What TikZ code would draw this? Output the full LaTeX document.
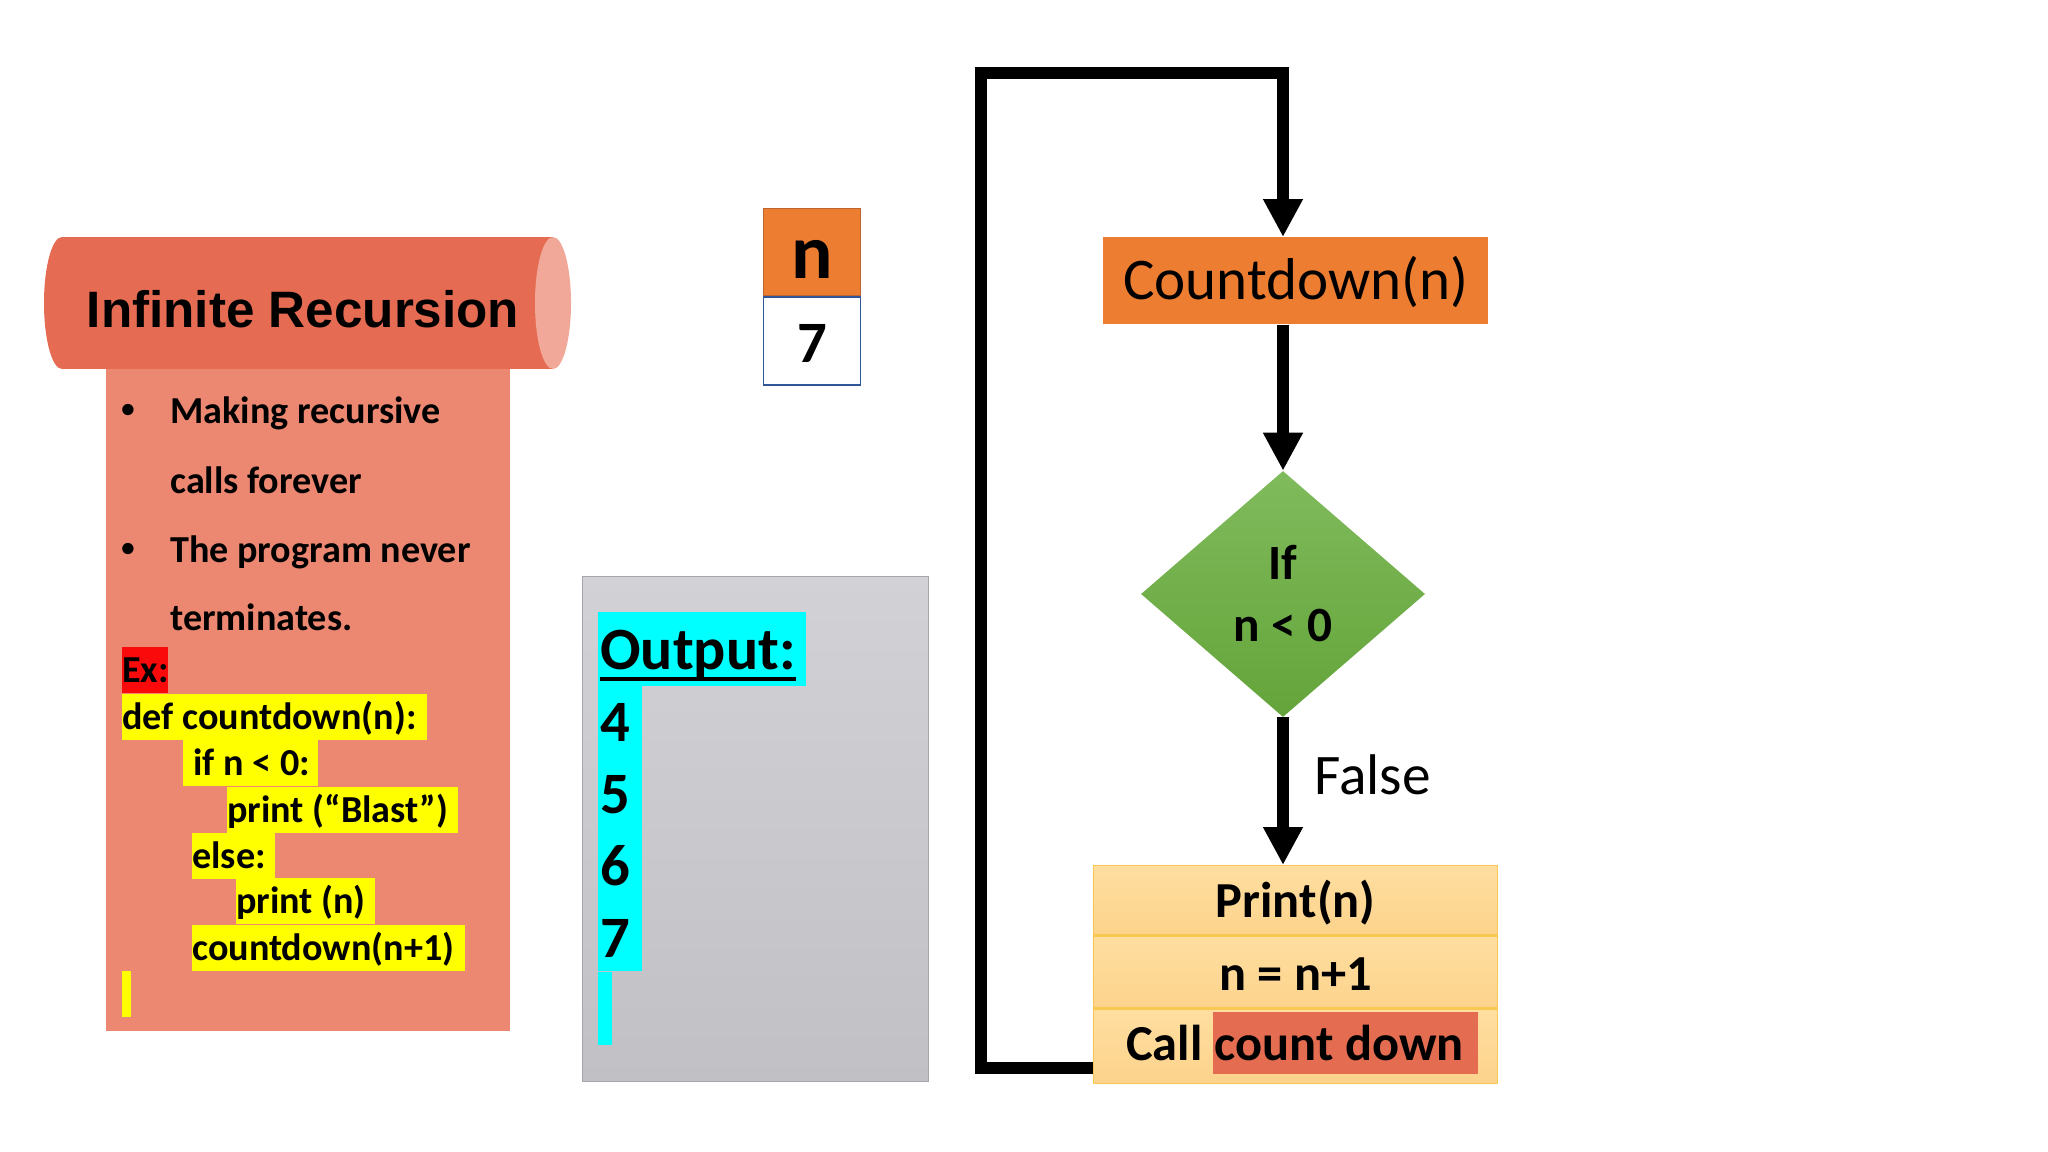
\documentclass[tikz,border=0pt]{standalone}
\usepackage{fontspec}
\setmainfont{Carlito}
\newfontfamily\arialfont{Liberation Sans}
\usetikzlibrary{arrows.meta,shapes.geometric,calc}

\definecolor{scrollred}{RGB}{229,108,82}
\definecolor{scrollend}{RGB}{241,168,152}
\definecolor{panelsalmon}{RGB}{236,135,113}
\definecolor{hlyellow}{RGB}{255,255,0}
\definecolor{exred}{RGB}{250,10,10}
\definecolor{nfill}{RGB}{237,125,49}
\definecolor{ndraw}{RGB}{190,100,45}
\definecolor{celldraw}{RGB}{47,85,151}
\definecolor{hlcyan}{RGB}{0,255,255}
\definecolor{graytop}{RGB}{210,209,213}
\definecolor{graybot}{RGB}{193,192,196}
\definecolor{grayline}{RGB}{165,165,170}
\definecolor{greentop}{RGB}{128,187,92}
\definecolor{greenbot}{RGB}{100,164,58}
\definecolor{steptop}{RGB}{255,222,160}
\definecolor{stepbot}{RGB}{252,211,140}
\definecolor{stepline}{RGB}{248,200,80}
\definecolor{callred}{RGB}{228,108,80}

\newcommand{\panelfont}{\fontsize{28.6}{34}\selectfont\bfseries}
\newcommand{\outfont}{\fontsize{44}{50}\selectfont\bfseries}
\newcommand{\stepfont}{\fontsize{37.8}{42}\selectfont\bfseries}
\newcommand{\thickul}[1]{\setbox0\hbox{#1}\rlap{\rule[-8.6pt]{\wd0}{3pt}}\box0}

\tikzset{
	txt/.style={inner sep=0pt, anchor=base west},
	bulletdot/.style={inner sep=0pt, anchor=center, font=\fontsize{20}{24}\selectfont\bfseries},
	codehl/.style={fill=hlyellow, inner sep=0pt, anchor=base west,
		text height=26.5pt, text depth=8pt, font=\panelfont},
	varcell/.style={anchor=north west, inner sep=0pt, minimum width=72.75pt,
		line width=1.1pt, font=\bfseries},
	outcol/.style={anchor=north west, fill=hlcyan, inner sep=0pt},
	cdbox/.style={anchor=north west, fill=nfill, inner sep=0pt, minimum width=288.75pt,
		text height=46.5pt, text depth=18.75pt, font=\fontsize{44.3}{50}\selectfont},
	decision/.style={shape=diamond, inner sep=0pt, minimum width=213pt, minimum height=184.5pt,
		top color=greentop, bottom color=greenbot, align=center,
		font=\fontsize{37}{46.5}\selectfont\bfseries},
	stepbox/.style={anchor=north west, inner sep=0pt, minimum width=303pt,
		top color=steptop, bottom color=stepbot, draw=stepline, line width=1pt,
		font=\stepfont},
	flowarrow/.style={line width=9pt, -{Triangle[length=28.5pt,width=28pt]}},
}

\begin{document}
\begin{tikzpicture}[x=0.75pt,y=0.75pt,yscale=-1,xscale=1]
\path[use as bounding box, fill=white] (0,0) rectangle (2048,1152);

% scroll with the definition
\fill[panelsalmon] (106,369) rectangle (510,1031);
\fill[scrollred] (62,237) rectangle (553,369);
\fill[scrollred] (62,303) ellipse [x radius=18, y radius=66];
\fill[scrollend] (553,303) ellipse [x radius=18, y radius=66];
\node[txt, anchor=base, font=\arialfont\bfseries\fontsize{38.4}{44}\selectfont] (title) at (303,327) {Infinite Recursion};

\node[bulletdot] (bul1) at (128,411) {•};
\node[txt, font=\panelfont] (line1) at (170,423) {Making recursive};
\node[txt, font=\panelfont] (line2) at (170,493) {calls forever};
\node[bulletdot] (bul2) at (128,550) {•};
\node[txt, font=\panelfont] (line3) at (170,562) {The program never};
\node[txt, font=\panelfont] (line4) at (170,630) {terminates.};

% example code
\node[codehl, fill=exred] (ex) at (122,682) {\makebox[34.5pt][l]{Ex:}};
\node[codehl] (def) at (122,729) {\makebox[228.75pt][l]{def countdown(n):}};
\node[codehl] (ifline) at (183,775) {\makebox[101.25pt][l]{\hspace{7.5pt}if n < 0:}};
\node[codehl] (blast) at (227,822) {\makebox[173.25pt][l]{print (“Blast”)}};
\node[codehl] (elseline) at (192,868) {\makebox[62.25pt][l]{else:}};
\node[codehl] (printn) at (236,913) {\makebox[104.25pt][l]{print (n)}};
\node[codehl] (recur) at (192,960) {\makebox[204.75pt][l]{countdown(n+1)}};
\node[codehl] (cursor) at (122,1006) {\makebox[6.75pt]{}};

% variable n
\node[varcell, fill=nfill, draw=ndraw, text height=52.5pt, text depth=12.75pt,
	font=\fontsize{58}{60}\selectfont\bfseries] (nhead) at (763,208) {n};
\node[varcell, fill=white, draw=celldraw, text height=48.75pt, text depth=17.25pt,
	font=\fontsize{44}{50}\selectfont\bfseries] (nval) at (nhead.south west) {7};

% output window
\node[anchor=north west, inner sep=0pt, minimum width=259.5pt, minimum height=378.75pt,
	top color=graytop, bottom color=graybot, draw=grayline, line width=0.8pt] (outbox) at (582,576) {};
\node[txt, fill=hlcyan, text height=43.1pt, text depth=12.4pt, font=\fontsize{45}{50}\selectfont\bfseries]
	(outlabel) at (598,669.5) {\makebox[156pt][l]{\hspace{1.5pt}\thickul{Output:}}};
\node[outcol, minimum width=33pt, minimum height=213.75pt] (digits) at (598,686) {};
\node[outcol, minimum width=10.5pt, minimum height=54.75pt] (outcursor) at (digits.south west) {};
\foreach \d [count=\i] in {4,...,7}
	\node[txt, font=\outfont] (out\d) at (600,669+72*\i) {\d};

% flowchart
\node[cdbox] (countdown) at (1103,237) {Countdown(n)};
\node[decision] (ifnode) at (1283,594) {If\\n < 0};
\node[stepbox, text height=39pt, text depth=12.75pt] (prow) at (1093,865) {Print(n)};
\node[stepbox, text height=40.5pt, text depth=13.5pt] (incrow) at (prow.south west) {n = n+1};
\node[stepbox, text height=40.5pt, text depth=15pt] (callrow) at (incrow.south west) {};
\node[txt, font=\stepfont] (callword) at (1126,1060) {Call};
\node[txt, fill=callred, text height=36pt, text depth=10.5pt, font=\stepfont]
	(callname) at (1213,1060) {\makebox[198.75pt][l]{\hspace{1pt}count down}};
\node[txt, font=\fontsize{43}{50}\selectfont] (falselbl) at (1314,794) {False};

\coordinate (looptop) at (981,73);
\coordinate (loopin) at ($(callrow.south west)+(0,-16)$);

\draw[flowarrow] (ifnode.north |- countdown.south) -- (ifnode.north);
\draw[flowarrow] (ifnode.south) -- (ifnode.south |- prow.north);
\draw[flowarrow] (loopin) -| (looptop) -| (ifnode.north |- countdown.north);

\end{tikzpicture}
\end{document}
